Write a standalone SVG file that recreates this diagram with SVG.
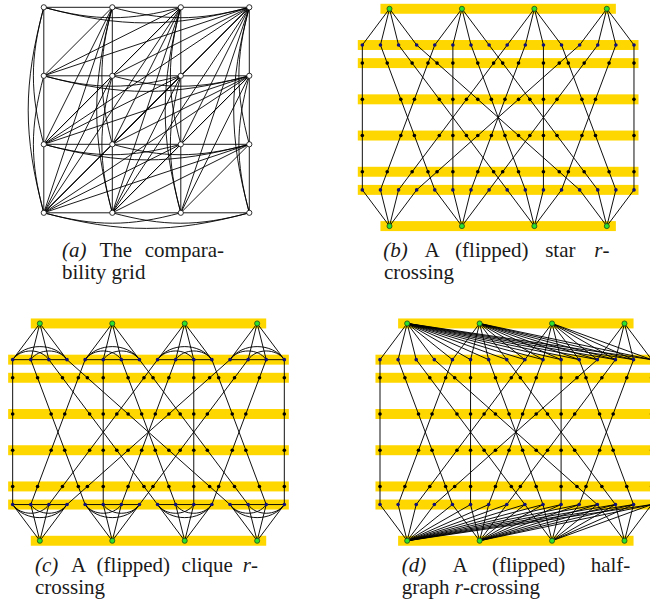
<svg xmlns="http://www.w3.org/2000/svg" width="650" height="605" viewBox="0 0 650 605">
<style>
.e{fill:none;stroke:#000;stroke-width:.052}
.ea{fill:none;stroke:#000;stroke-width:.9}
.band{fill:#ffd700}
.g{fill:#2de02d;stroke:#1b4d1b;stroke-width:.045}
.b{fill:#10107a}
.k{fill:#000}
.w{fill:#fff;stroke:#000;stroke-width:.8}
.cap{font-family:"Liberation Serif","Times New Roman",serif;font-size:21px;fill:#1a1a1a}
.it{font-style:italic}
</style>
<rect width="650" height="605" fill="#fff"/>

<!-- Panel (a): comparability grid -->
<g id="panel-a">
<g id="a-edges" class="ea">
<path d="M43.8 7.3H249.3M43.8 75.8H249.3M43.8 144.3H249.3M43.8 212.8H249.3M43.8 7.3V212.8M112.3 7.3V212.8M180.8 7.3V212.8M249.3 7.3V212.8"/>
<path d="M43.8 7.3C95.6 21.2 129 21.2 180.8 7.3M112.3 7.3C164.1 21.2 197.5 21.2 249.3 7.3M43.8 7.3C121.5 28.1 171.6 28.1 249.3 7.3
M43.8 75.8C95.6 89.7 129 89.7 180.8 75.8M112.3 75.8C164.1 89.7 197.5 89.7 249.3 75.8M43.8 75.8C121.5 96.6 171.6 96.6 249.3 75.8
M43.8 144.3C95.6 158.2 129 158.2 180.8 144.3M112.3 144.3C164.1 158.2 197.5 158.2 249.3 144.3M43.8 144.3C121.5 165.1 171.6 165.1 249.3 144.3
M43.8 212.8C95.6 226.7 129 226.7 180.8 212.8M112.3 212.8C164.1 226.7 197.5 226.7 249.3 212.8M43.8 212.8C121.5 233.6 171.6 233.6 249.3 212.8"/>
<path d="M43.8 7.3C29.9 59.1 29.9 92.5 43.8 144.3M43.8 75.8C29.9 127.6 29.9 161 43.8 212.8M43.8 7.3C23 85 23 135.1 43.8 212.8
M112.3 7.3C98.4 59.1 98.4 92.5 112.3 144.3M112.3 75.8C98.4 127.6 98.4 161 112.3 212.8M112.3 7.3C91.5 85 91.5 135.1 112.3 212.8
M180.8 7.3C166.9 59.1 166.9 92.5 180.8 144.3M180.8 75.8C166.9 127.6 166.9 161 180.8 212.8M180.8 7.3C160 85 160 135.1 180.8 212.8
M249.3 7.3C235.4 59.1 235.4 92.5 249.3 144.3M249.3 75.8C235.4 127.6 235.4 161 249.3 212.8M249.3 7.3C228.5 85 228.5 135.1 249.3 212.8"/>
<path d="M43.8 75.8L112.3 7.3M43.8 144.3L112.3 7.3M43.8 212.8L112.3 7.3M43.8 144.3L112.3 75.8M43.8 212.8L112.3 75.8M43.8 212.8L112.3 144.3
M43.8 75.8L180.8 7.3M43.8 144.3L180.8 7.3M43.8 212.8L180.8 7.3M43.8 144.3L180.8 75.8M43.8 212.8L180.8 75.8M43.8 212.8L180.8 144.3
M43.8 75.8L249.3 7.3M43.8 144.3L249.3 7.3M43.8 212.8L249.3 7.3M43.8 144.3L249.3 75.8M43.8 212.8L249.3 75.8M43.8 212.8L249.3 144.3
M112.3 75.8L180.8 7.3M112.3 144.3L180.8 7.3M112.3 212.8L180.8 7.3M112.3 144.3L180.8 75.8M112.3 212.8L180.8 75.8M112.3 212.8L180.8 144.3
M112.3 75.8L249.3 7.3M112.3 144.3L249.3 7.3M112.3 212.8L249.3 7.3M112.3 144.3L249.3 75.8M112.3 212.8L249.3 75.8M112.3 212.8L249.3 144.3
M180.8 75.8L249.3 7.3M180.8 144.3L249.3 7.3M180.8 212.8L249.3 7.3M180.8 144.3L249.3 75.8M180.8 212.8L249.3 75.8M180.8 212.8L249.3 144.3"/>
</g>
<g id="a-c0-r0"><circle class="w" cx="43.8" cy="7.3" r="2.6"/></g>
<g id="a-c1-r0"><circle class="w" cx="112.3" cy="7.3" r="2.6"/></g>
<g id="a-c2-r0"><circle class="w" cx="180.8" cy="7.3" r="2.6"/></g>
<g id="a-c3-r0"><circle class="w" cx="249.3" cy="7.3" r="2.6"/></g>
<g id="a-c0-r1"><circle class="w" cx="43.8" cy="75.8" r="2.6"/></g>
<g id="a-c1-r1"><circle class="w" cx="112.3" cy="75.8" r="2.6"/></g>
<g id="a-c2-r1"><circle class="w" cx="180.8" cy="75.8" r="2.6"/></g>
<g id="a-c3-r1"><circle class="w" cx="249.3" cy="75.8" r="2.6"/></g>
<g id="a-c0-r2"><circle class="w" cx="43.8" cy="144.3" r="2.6"/></g>
<g id="a-c1-r2"><circle class="w" cx="112.3" cy="144.3" r="2.6"/></g>
<g id="a-c2-r2"><circle class="w" cx="180.8" cy="144.3" r="2.6"/></g>
<g id="a-c3-r2"><circle class="w" cx="249.3" cy="144.3" r="2.6"/></g>
<g id="a-c0-r3"><circle class="w" cx="43.8" cy="212.8" r="2.6"/></g>
<g id="a-c1-r3"><circle class="w" cx="112.3" cy="212.8" r="2.6"/></g>
<g id="a-c2-r3"><circle class="w" cx="180.8" cy="212.8" r="2.6"/></g>
<g id="a-c3-r3"><circle class="w" cx="249.3" cy="212.8" r="2.6"/></g>
</g>

<!-- Panel (b): star r-crossing -->
<g id="panel-b" transform="translate(362.33,45) scale(18.11)">
<g id="b-bands">
<rect class="band" x="1" y="-2.275" width="13" height=".55"/>
<rect class="band" x="1" y="9.725" width="13" height=".55"/>
<rect class="band" x="-.25" y="-.275" width="15.5" height=".55"/>
<rect class="band" x="-.25" y=".725" width="15.5" height=".55"/>
<rect class="band" x="-.25" y="2.725" width="15.5" height=".55"/>
<rect class="band" x="-.25" y="4.725" width="15.5" height=".55"/>
<rect class="band" x="-.25" y="6.725" width="15.5" height=".55"/>
<rect class="band" x="-.25" y="7.725" width="15.5" height=".55"/>
</g>
<g id="b-edges" class="e">
<path d="M0 0V8M1 0L4 8M2 0L8 8M3 0L12 8M4 0L1 8M5 0V8M6 0L9 8M7 0L13 8M8 0L2 8M9 0L6 8M10 0V8M11 0L14 8M12 0L3 8M13 0L7 8M14 0L11 8M15 0V8"/>
<path d="M1.5 -2L0 0M1.5 -2L1 0M1.5 -2L2 0M1.5 -2L3 0M5.5 -2L4 0M5.5 -2L5 0M5.5 -2L6 0M5.5 -2L7 0M9.5 -2L8 0M9.5 -2L9 0M9.5 -2L10 0M9.5 -2L11 0M13.5 -2L12 0M13.5 -2L13 0M13.5 -2L14 0M13.5 -2L15 0"/>
<path d="M1.5 10L0 8M1.5 10L1 8M1.5 10L2 8M1.5 10L3 8M5.5 10L4 8M5.5 10L5 8M5.5 10L6 8M5.5 10L7 8M9.5 10L8 8M9.5 10L9 8M9.5 10L10 8M9.5 10L11 8M13.5 10L12 8M13.5 10L13 8M13.5 10L14 8M13.5 10L15 8"/>
</g>
<g id="b-top0"><circle class="g" cx="1.5" cy="-2" r=".14"/></g>
<g id="b-top1"><circle class="g" cx="5.5" cy="-2" r=".14"/></g>
<g id="b-top2"><circle class="g" cx="9.5" cy="-2" r=".14"/></g>
<g id="b-top3"><circle class="g" cx="13.5" cy="-2" r=".14"/></g>
<g id="b-bot0"><circle class="g" cx="1.5" cy="10" r=".14"/></g>
<g id="b-bot1"><circle class="g" cx="5.5" cy="10" r=".14"/></g>
<g id="b-bot2"><circle class="g" cx="9.5" cy="10" r=".14"/></g>
<g id="b-bot3"><circle class="g" cx="13.5" cy="10" r=".14"/></g>
<g id="b-r0-0"><circle class="b" cx="0" cy="0" r=".1"/></g>
<g id="b-r0-1"><circle class="b" cx="1" cy="0" r=".1"/></g>
<g id="b-r0-2"><circle class="b" cx="2" cy="0" r=".1"/></g>
<g id="b-r0-3"><circle class="b" cx="3" cy="0" r=".1"/></g>
<g id="b-r0-4"><circle class="b" cx="4" cy="0" r=".1"/></g>
<g id="b-r0-5"><circle class="b" cx="5" cy="0" r=".1"/></g>
<g id="b-r0-6"><circle class="b" cx="6" cy="0" r=".1"/></g>
<g id="b-r0-7"><circle class="b" cx="7" cy="0" r=".1"/></g>
<g id="b-r0-8"><circle class="b" cx="8" cy="0" r=".1"/></g>
<g id="b-r0-9"><circle class="b" cx="9" cy="0" r=".1"/></g>
<g id="b-r0-10"><circle class="b" cx="10" cy="0" r=".1"/></g>
<g id="b-r0-11"><circle class="b" cx="11" cy="0" r=".1"/></g>
<g id="b-r0-12"><circle class="b" cx="12" cy="0" r=".1"/></g>
<g id="b-r0-13"><circle class="b" cx="13" cy="0" r=".1"/></g>
<g id="b-r0-14"><circle class="b" cx="14" cy="0" r=".1"/></g>
<g id="b-r0-15"><circle class="b" cx="15" cy="0" r=".1"/></g>
<g id="b-r1-0"><circle class="k" cx="0" cy="1" r=".1"/></g>
<g id="b-r1-1"><circle class="k" cx="1.375" cy="1" r=".1"/></g>
<g id="b-r1-2"><circle class="k" cx="2.75" cy="1" r=".1"/></g>
<g id="b-r1-3"><circle class="k" cx="4.125" cy="1" r=".1"/></g>
<g id="b-r1-4"><circle class="k" cx="3.625" cy="1" r=".1"/></g>
<g id="b-r1-5"><circle class="k" cx="5" cy="1" r=".1"/></g>
<g id="b-r1-6"><circle class="k" cx="6.375" cy="1" r=".1"/></g>
<g id="b-r1-7"><circle class="k" cx="7.75" cy="1" r=".1"/></g>
<g id="b-r1-8"><circle class="k" cx="7.25" cy="1" r=".1"/></g>
<g id="b-r1-9"><circle class="k" cx="8.625" cy="1" r=".1"/></g>
<g id="b-r1-10"><circle class="k" cx="10" cy="1" r=".1"/></g>
<g id="b-r1-11"><circle class="k" cx="11.375" cy="1" r=".1"/></g>
<g id="b-r1-12"><circle class="k" cx="10.875" cy="1" r=".1"/></g>
<g id="b-r1-13"><circle class="k" cx="12.25" cy="1" r=".1"/></g>
<g id="b-r1-14"><circle class="k" cx="13.625" cy="1" r=".1"/></g>
<g id="b-r1-15"><circle class="k" cx="15" cy="1" r=".1"/></g>
<g id="b-r3-0"><circle class="k" cx="0" cy="3" r=".1"/></g>
<g id="b-r3-1"><circle class="k" cx="2.125" cy="3" r=".1"/></g>
<g id="b-r3-2"><circle class="k" cx="4.25" cy="3" r=".1"/></g>
<g id="b-r3-3"><circle class="k" cx="6.375" cy="3" r=".1"/></g>
<g id="b-r3-4"><circle class="k" cx="2.875" cy="3" r=".1"/></g>
<g id="b-r3-5"><circle class="k" cx="5" cy="3" r=".1"/></g>
<g id="b-r3-6"><circle class="k" cx="7.125" cy="3" r=".1"/></g>
<g id="b-r3-7"><circle class="k" cx="9.25" cy="3" r=".1"/></g>
<g id="b-r3-8"><circle class="k" cx="5.75" cy="3" r=".1"/></g>
<g id="b-r3-9"><circle class="k" cx="7.875" cy="3" r=".1"/></g>
<g id="b-r3-10"><circle class="k" cx="10" cy="3" r=".1"/></g>
<g id="b-r3-11"><circle class="k" cx="12.125" cy="3" r=".1"/></g>
<g id="b-r3-12"><circle class="k" cx="8.625" cy="3" r=".1"/></g>
<g id="b-r3-13"><circle class="k" cx="10.75" cy="3" r=".1"/></g>
<g id="b-r3-14"><circle class="k" cx="12.875" cy="3" r=".1"/></g>
<g id="b-r3-15"><circle class="k" cx="15" cy="3" r=".1"/></g>
<g id="b-r5-0"><circle class="k" cx="0" cy="5" r=".1"/></g>
<g id="b-r5-1"><circle class="k" cx="2.875" cy="5" r=".1"/></g>
<g id="b-r5-2"><circle class="k" cx="5.75" cy="5" r=".1"/></g>
<g id="b-r5-3"><circle class="k" cx="8.625" cy="5" r=".1"/></g>
<g id="b-r5-4"><circle class="k" cx="2.125" cy="5" r=".1"/></g>
<g id="b-r5-5"><circle class="k" cx="5" cy="5" r=".1"/></g>
<g id="b-r5-6"><circle class="k" cx="7.875" cy="5" r=".1"/></g>
<g id="b-r5-7"><circle class="k" cx="10.75" cy="5" r=".1"/></g>
<g id="b-r5-8"><circle class="k" cx="4.25" cy="5" r=".1"/></g>
<g id="b-r5-9"><circle class="k" cx="7.125" cy="5" r=".1"/></g>
<g id="b-r5-10"><circle class="k" cx="10" cy="5" r=".1"/></g>
<g id="b-r5-11"><circle class="k" cx="12.875" cy="5" r=".1"/></g>
<g id="b-r5-12"><circle class="k" cx="6.375" cy="5" r=".1"/></g>
<g id="b-r5-13"><circle class="k" cx="9.25" cy="5" r=".1"/></g>
<g id="b-r5-14"><circle class="k" cx="12.125" cy="5" r=".1"/></g>
<g id="b-r5-15"><circle class="k" cx="15" cy="5" r=".1"/></g>
<g id="b-r7-0"><circle class="k" cx="0" cy="7" r=".1"/></g>
<g id="b-r7-1"><circle class="k" cx="3.625" cy="7" r=".1"/></g>
<g id="b-r7-2"><circle class="k" cx="7.25" cy="7" r=".1"/></g>
<g id="b-r7-3"><circle class="k" cx="10.875" cy="7" r=".1"/></g>
<g id="b-r7-4"><circle class="k" cx="1.375" cy="7" r=".1"/></g>
<g id="b-r7-5"><circle class="k" cx="5" cy="7" r=".1"/></g>
<g id="b-r7-6"><circle class="k" cx="8.625" cy="7" r=".1"/></g>
<g id="b-r7-7"><circle class="k" cx="12.25" cy="7" r=".1"/></g>
<g id="b-r7-8"><circle class="k" cx="2.75" cy="7" r=".1"/></g>
<g id="b-r7-9"><circle class="k" cx="6.375" cy="7" r=".1"/></g>
<g id="b-r7-10"><circle class="k" cx="10" cy="7" r=".1"/></g>
<g id="b-r7-11"><circle class="k" cx="13.625" cy="7" r=".1"/></g>
<g id="b-r7-12"><circle class="k" cx="4.125" cy="7" r=".1"/></g>
<g id="b-r7-13"><circle class="k" cx="7.75" cy="7" r=".1"/></g>
<g id="b-r7-14"><circle class="k" cx="11.375" cy="7" r=".1"/></g>
<g id="b-r7-15"><circle class="k" cx="15" cy="7" r=".1"/></g>
<g id="b-r8-0"><circle class="b" cx="0" cy="8" r=".1"/></g>
<g id="b-r8-1"><circle class="b" cx="1" cy="8" r=".1"/></g>
<g id="b-r8-2"><circle class="b" cx="2" cy="8" r=".1"/></g>
<g id="b-r8-3"><circle class="b" cx="3" cy="8" r=".1"/></g>
<g id="b-r8-4"><circle class="b" cx="4" cy="8" r=".1"/></g>
<g id="b-r8-5"><circle class="b" cx="5" cy="8" r=".1"/></g>
<g id="b-r8-6"><circle class="b" cx="6" cy="8" r=".1"/></g>
<g id="b-r8-7"><circle class="b" cx="7" cy="8" r=".1"/></g>
<g id="b-r8-8"><circle class="b" cx="8" cy="8" r=".1"/></g>
<g id="b-r8-9"><circle class="b" cx="9" cy="8" r=".1"/></g>
<g id="b-r8-10"><circle class="b" cx="10" cy="8" r=".1"/></g>
<g id="b-r8-11"><circle class="b" cx="11" cy="8" r=".1"/></g>
<g id="b-r8-12"><circle class="b" cx="12" cy="8" r=".1"/></g>
<g id="b-r8-13"><circle class="b" cx="13" cy="8" r=".1"/></g>
<g id="b-r8-14"><circle class="b" cx="14" cy="8" r=".1"/></g>
<g id="b-r8-15"><circle class="b" cx="15" cy="8" r=".1"/></g>
</g>

<!-- Panel (c): clique r-crossing -->
<g id="panel-c" transform="translate(12.67,359.67) scale(18.11)">
<g id="c-bands">
<rect class="band" x="1" y="-2.275" width="13" height=".55"/>
<rect class="band" x="1" y="9.725" width="13" height=".55"/>
<rect class="band" x="-.25" y="-.275" width="15.5" height=".55"/>
<rect class="band" x="-.25" y=".725" width="15.5" height=".55"/>
<rect class="band" x="-.25" y="2.725" width="15.5" height=".55"/>
<rect class="band" x="-.25" y="4.725" width="15.5" height=".55"/>
<rect class="band" x="-.25" y="6.725" width="15.5" height=".55"/>
<rect class="band" x="-.25" y="7.725" width="15.5" height=".55"/>
</g>
<g id="c-edges" class="e">
<path d="M0 0V8M1 0L4 8M2 0L8 8M3 0L12 8M4 0L1 8M5 0V8M6 0L9 8M7 0L13 8M8 0L2 8M9 0L6 8M10 0V8M11 0L14 8M12 0L3 8M13 0L7 8M14 0L11 8M15 0V8"/>
<path d="M1.5 -2L0 0M1.5 -2L1 0M1.5 -2L2 0M1.5 -2L3 0M5.5 -2L4 0M5.5 -2L5 0M5.5 -2L6 0M5.5 -2L7 0M9.5 -2L8 0M9.5 -2L9 0M9.5 -2L10 0M9.5 -2L11 0M13.5 -2L12 0M13.5 -2L13 0M13.5 -2L14 0M13.5 -2L15 0"/>
<path d="M1.5 10L0 8M1.5 10L1 8M1.5 10L2 8M1.5 10L3 8M5.5 10L4 8M5.5 10L5 8M5.5 10L6 8M5.5 10L7 8M9.5 10L8 8M9.5 10L9 8M9.5 10L10 8M9.5 10L11 8M13.5 10L12 8M13.5 10L13 8M13.5 10L14 8M13.5 10L15 8"/>
<path d="M0 0H3M0 0C.449 -.641 1.551 -.641 2 0M1 0C1.449 -.641 2.551 -.641 3 0M0 0C.674 -.962 2.326 -.962 3 0
M4 0H7M4 0C4.449 -.641 5.551 -.641 6 0M5 0C5.449 -.641 6.551 -.641 7 0M4 0C4.674 -.962 6.326 -.962 7 0
M8 0H11M8 0C8.449 -.641 9.551 -.641 10 0M9 0C9.449 -.641 10.551 -.641 11 0M8 0C8.674 -.962 10.326 -.962 11 0
M12 0H15M12 0C12.449 -.641 13.551 -.641 14 0M13 0C13.449 -.641 14.551 -.641 15 0M12 0C12.674 -.962 14.326 -.962 15 0"/>
<path d="M0 8H3M0 8C.449 8.641 1.551 8.641 2 8M1 8C1.449 8.641 2.551 8.641 3 8M0 8C.674 8.962 2.326 8.962 3 8
M4 8H7M4 8C4.449 8.641 5.551 8.641 6 8M5 8C5.449 8.641 6.551 8.641 7 8M4 8C4.674 8.962 6.326 8.962 7 8
M8 8H11M8 8C8.449 8.641 9.551 8.641 10 8M9 8C9.449 8.641 10.551 8.641 11 8M8 8C8.674 8.962 10.326 8.962 11 8
M12 8H15M12 8C12.449 8.641 13.551 8.641 14 8M13 8C13.449 8.641 14.551 8.641 15 8M12 8C12.674 8.962 14.326 8.962 15 8"/>
</g>
<g id="c-top0"><circle class="g" cx="1.5" cy="-2" r=".14"/></g>
<g id="c-top1"><circle class="g" cx="5.5" cy="-2" r=".14"/></g>
<g id="c-top2"><circle class="g" cx="9.5" cy="-2" r=".14"/></g>
<g id="c-top3"><circle class="g" cx="13.5" cy="-2" r=".14"/></g>
<g id="c-bot0"><circle class="g" cx="1.5" cy="10" r=".14"/></g>
<g id="c-bot1"><circle class="g" cx="5.5" cy="10" r=".14"/></g>
<g id="c-bot2"><circle class="g" cx="9.5" cy="10" r=".14"/></g>
<g id="c-bot3"><circle class="g" cx="13.5" cy="10" r=".14"/></g>
<g id="c-r0-0"><circle class="b" cx="0" cy="0" r=".1"/></g>
<g id="c-r0-1"><circle class="b" cx="1" cy="0" r=".1"/></g>
<g id="c-r0-2"><circle class="b" cx="2" cy="0" r=".1"/></g>
<g id="c-r0-3"><circle class="b" cx="3" cy="0" r=".1"/></g>
<g id="c-r0-4"><circle class="b" cx="4" cy="0" r=".1"/></g>
<g id="c-r0-5"><circle class="b" cx="5" cy="0" r=".1"/></g>
<g id="c-r0-6"><circle class="b" cx="6" cy="0" r=".1"/></g>
<g id="c-r0-7"><circle class="b" cx="7" cy="0" r=".1"/></g>
<g id="c-r0-8"><circle class="b" cx="8" cy="0" r=".1"/></g>
<g id="c-r0-9"><circle class="b" cx="9" cy="0" r=".1"/></g>
<g id="c-r0-10"><circle class="b" cx="10" cy="0" r=".1"/></g>
<g id="c-r0-11"><circle class="b" cx="11" cy="0" r=".1"/></g>
<g id="c-r0-12"><circle class="b" cx="12" cy="0" r=".1"/></g>
<g id="c-r0-13"><circle class="b" cx="13" cy="0" r=".1"/></g>
<g id="c-r0-14"><circle class="b" cx="14" cy="0" r=".1"/></g>
<g id="c-r0-15"><circle class="b" cx="15" cy="0" r=".1"/></g>
<g id="c-r1-0"><circle class="k" cx="0" cy="1" r=".1"/></g>
<g id="c-r1-1"><circle class="k" cx="1.375" cy="1" r=".1"/></g>
<g id="c-r1-2"><circle class="k" cx="2.75" cy="1" r=".1"/></g>
<g id="c-r1-3"><circle class="k" cx="4.125" cy="1" r=".1"/></g>
<g id="c-r1-4"><circle class="k" cx="3.625" cy="1" r=".1"/></g>
<g id="c-r1-5"><circle class="k" cx="5" cy="1" r=".1"/></g>
<g id="c-r1-6"><circle class="k" cx="6.375" cy="1" r=".1"/></g>
<g id="c-r1-7"><circle class="k" cx="7.75" cy="1" r=".1"/></g>
<g id="c-r1-8"><circle class="k" cx="7.25" cy="1" r=".1"/></g>
<g id="c-r1-9"><circle class="k" cx="8.625" cy="1" r=".1"/></g>
<g id="c-r1-10"><circle class="k" cx="10" cy="1" r=".1"/></g>
<g id="c-r1-11"><circle class="k" cx="11.375" cy="1" r=".1"/></g>
<g id="c-r1-12"><circle class="k" cx="10.875" cy="1" r=".1"/></g>
<g id="c-r1-13"><circle class="k" cx="12.25" cy="1" r=".1"/></g>
<g id="c-r1-14"><circle class="k" cx="13.625" cy="1" r=".1"/></g>
<g id="c-r1-15"><circle class="k" cx="15" cy="1" r=".1"/></g>
<g id="c-r3-0"><circle class="k" cx="0" cy="3" r=".1"/></g>
<g id="c-r3-1"><circle class="k" cx="2.125" cy="3" r=".1"/></g>
<g id="c-r3-2"><circle class="k" cx="4.25" cy="3" r=".1"/></g>
<g id="c-r3-3"><circle class="k" cx="6.375" cy="3" r=".1"/></g>
<g id="c-r3-4"><circle class="k" cx="2.875" cy="3" r=".1"/></g>
<g id="c-r3-5"><circle class="k" cx="5" cy="3" r=".1"/></g>
<g id="c-r3-6"><circle class="k" cx="7.125" cy="3" r=".1"/></g>
<g id="c-r3-7"><circle class="k" cx="9.25" cy="3" r=".1"/></g>
<g id="c-r3-8"><circle class="k" cx="5.75" cy="3" r=".1"/></g>
<g id="c-r3-9"><circle class="k" cx="7.875" cy="3" r=".1"/></g>
<g id="c-r3-10"><circle class="k" cx="10" cy="3" r=".1"/></g>
<g id="c-r3-11"><circle class="k" cx="12.125" cy="3" r=".1"/></g>
<g id="c-r3-12"><circle class="k" cx="8.625" cy="3" r=".1"/></g>
<g id="c-r3-13"><circle class="k" cx="10.75" cy="3" r=".1"/></g>
<g id="c-r3-14"><circle class="k" cx="12.875" cy="3" r=".1"/></g>
<g id="c-r3-15"><circle class="k" cx="15" cy="3" r=".1"/></g>
<g id="c-r5-0"><circle class="k" cx="0" cy="5" r=".1"/></g>
<g id="c-r5-1"><circle class="k" cx="2.875" cy="5" r=".1"/></g>
<g id="c-r5-2"><circle class="k" cx="5.75" cy="5" r=".1"/></g>
<g id="c-r5-3"><circle class="k" cx="8.625" cy="5" r=".1"/></g>
<g id="c-r5-4"><circle class="k" cx="2.125" cy="5" r=".1"/></g>
<g id="c-r5-5"><circle class="k" cx="5" cy="5" r=".1"/></g>
<g id="c-r5-6"><circle class="k" cx="7.875" cy="5" r=".1"/></g>
<g id="c-r5-7"><circle class="k" cx="10.75" cy="5" r=".1"/></g>
<g id="c-r5-8"><circle class="k" cx="4.25" cy="5" r=".1"/></g>
<g id="c-r5-9"><circle class="k" cx="7.125" cy="5" r=".1"/></g>
<g id="c-r5-10"><circle class="k" cx="10" cy="5" r=".1"/></g>
<g id="c-r5-11"><circle class="k" cx="12.875" cy="5" r=".1"/></g>
<g id="c-r5-12"><circle class="k" cx="6.375" cy="5" r=".1"/></g>
<g id="c-r5-13"><circle class="k" cx="9.25" cy="5" r=".1"/></g>
<g id="c-r5-14"><circle class="k" cx="12.125" cy="5" r=".1"/></g>
<g id="c-r5-15"><circle class="k" cx="15" cy="5" r=".1"/></g>
<g id="c-r7-0"><circle class="k" cx="0" cy="7" r=".1"/></g>
<g id="c-r7-1"><circle class="k" cx="3.625" cy="7" r=".1"/></g>
<g id="c-r7-2"><circle class="k" cx="7.25" cy="7" r=".1"/></g>
<g id="c-r7-3"><circle class="k" cx="10.875" cy="7" r=".1"/></g>
<g id="c-r7-4"><circle class="k" cx="1.375" cy="7" r=".1"/></g>
<g id="c-r7-5"><circle class="k" cx="5" cy="7" r=".1"/></g>
<g id="c-r7-6"><circle class="k" cx="8.625" cy="7" r=".1"/></g>
<g id="c-r7-7"><circle class="k" cx="12.25" cy="7" r=".1"/></g>
<g id="c-r7-8"><circle class="k" cx="2.75" cy="7" r=".1"/></g>
<g id="c-r7-9"><circle class="k" cx="6.375" cy="7" r=".1"/></g>
<g id="c-r7-10"><circle class="k" cx="10" cy="7" r=".1"/></g>
<g id="c-r7-11"><circle class="k" cx="13.625" cy="7" r=".1"/></g>
<g id="c-r7-12"><circle class="k" cx="4.125" cy="7" r=".1"/></g>
<g id="c-r7-13"><circle class="k" cx="7.75" cy="7" r=".1"/></g>
<g id="c-r7-14"><circle class="k" cx="11.375" cy="7" r=".1"/></g>
<g id="c-r7-15"><circle class="k" cx="15" cy="7" r=".1"/></g>
<g id="c-r8-0"><circle class="b" cx="0" cy="8" r=".1"/></g>
<g id="c-r8-1"><circle class="b" cx="1" cy="8" r=".1"/></g>
<g id="c-r8-2"><circle class="b" cx="2" cy="8" r=".1"/></g>
<g id="c-r8-3"><circle class="b" cx="3" cy="8" r=".1"/></g>
<g id="c-r8-4"><circle class="b" cx="4" cy="8" r=".1"/></g>
<g id="c-r8-5"><circle class="b" cx="5" cy="8" r=".1"/></g>
<g id="c-r8-6"><circle class="b" cx="6" cy="8" r=".1"/></g>
<g id="c-r8-7"><circle class="b" cx="7" cy="8" r=".1"/></g>
<g id="c-r8-8"><circle class="b" cx="8" cy="8" r=".1"/></g>
<g id="c-r8-9"><circle class="b" cx="9" cy="8" r=".1"/></g>
<g id="c-r8-10"><circle class="b" cx="10" cy="8" r=".1"/></g>
<g id="c-r8-11"><circle class="b" cx="11" cy="8" r=".1"/></g>
<g id="c-r8-12"><circle class="b" cx="12" cy="8" r=".1"/></g>
<g id="c-r8-13"><circle class="b" cx="13" cy="8" r=".1"/></g>
<g id="c-r8-14"><circle class="b" cx="14" cy="8" r=".1"/></g>
<g id="c-r8-15"><circle class="b" cx="15" cy="8" r=".1"/></g>
</g>

<!-- Panel (d): half-graph r-crossing -->
<g id="panel-d" transform="translate(380,359.67) scale(18.11)">
<g id="d-bands">
<rect class="band" x="1" y="-2.275" width="13" height=".55"/>
<rect class="band" x="1" y="9.725" width="13" height=".55"/>
<rect class="band" x="-.25" y="-.275" width="15.5" height=".55"/>
<rect class="band" x="-.25" y=".725" width="15.5" height=".55"/>
<rect class="band" x="-.25" y="2.725" width="15.5" height=".55"/>
<rect class="band" x="-.25" y="4.725" width="15.5" height=".55"/>
<rect class="band" x="-.25" y="6.725" width="15.5" height=".55"/>
<rect class="band" x="-.25" y="7.725" width="15.5" height=".55"/>
</g>
<g id="d-edges" class="e">
<path d="M0 0V8M1 0L4 8M2 0L8 8M3 0L12 8M4 0L1 8M5 0V8M6 0L9 8M7 0L13 8M8 0L2 8M9 0L6 8M10 0V8M11 0L14 8M12 0L3 8M13 0L7 8M14 0L11 8M15 0V8"/>
<path d="M1.5 -2L0 0M1.5 -2L1 0M1.5 -2L2 0M1.5 -2L3 0M1.5 -2L4 0M1.5 -2L5 0M1.5 -2L6 0M1.5 -2L7 0M1.5 -2L8 0M1.5 -2L9 0M1.5 -2L10 0M1.5 -2L11 0M1.5 -2L12 0M1.5 -2L13 0M1.5 -2L14 0M1.5 -2L15 0
M5.5 -2L4 0M5.5 -2L5 0M5.5 -2L6 0M5.5 -2L7 0M5.5 -2L8 0M5.5 -2L9 0M5.5 -2L10 0M5.5 -2L11 0M5.5 -2L12 0M5.5 -2L13 0M5.5 -2L14 0M5.5 -2L15 0
M9.5 -2L8 0M9.5 -2L9 0M9.5 -2L10 0M9.5 -2L11 0M9.5 -2L12 0M9.5 -2L13 0M9.5 -2L14 0M9.5 -2L15 0
M13.5 -2L12 0M13.5 -2L13 0M13.5 -2L14 0M13.5 -2L15 0"/>
<path d="M1.5 10L0 8M1.5 10L1 8M1.5 10L2 8M1.5 10L3 8M1.5 10L4 8M1.5 10L5 8M1.5 10L6 8M1.5 10L7 8M1.5 10L8 8M1.5 10L9 8M1.5 10L10 8M1.5 10L11 8M1.5 10L12 8M1.5 10L13 8M1.5 10L14 8M1.5 10L15 8
M5.5 10L4 8M5.5 10L5 8M5.5 10L6 8M5.5 10L7 8M5.5 10L8 8M5.5 10L9 8M5.5 10L10 8M5.5 10L11 8M5.5 10L12 8M5.5 10L13 8M5.5 10L14 8M5.5 10L15 8
M9.5 10L8 8M9.5 10L9 8M9.5 10L10 8M9.5 10L11 8M9.5 10L12 8M9.5 10L13 8M9.5 10L14 8M9.5 10L15 8
M13.5 10L12 8M13.5 10L13 8M13.5 10L14 8M13.5 10L15 8"/>
</g>
<g id="d-top0"><circle class="g" cx="1.5" cy="-2" r=".14"/></g>
<g id="d-top1"><circle class="g" cx="5.5" cy="-2" r=".14"/></g>
<g id="d-top2"><circle class="g" cx="9.5" cy="-2" r=".14"/></g>
<g id="d-top3"><circle class="g" cx="13.5" cy="-2" r=".14"/></g>
<g id="d-bot0"><circle class="g" cx="1.5" cy="10" r=".14"/></g>
<g id="d-bot1"><circle class="g" cx="5.5" cy="10" r=".14"/></g>
<g id="d-bot2"><circle class="g" cx="9.5" cy="10" r=".14"/></g>
<g id="d-bot3"><circle class="g" cx="13.5" cy="10" r=".14"/></g>
<g id="d-r0-0"><circle class="b" cx="0" cy="0" r=".1"/></g>
<g id="d-r0-1"><circle class="b" cx="1" cy="0" r=".1"/></g>
<g id="d-r0-2"><circle class="b" cx="2" cy="0" r=".1"/></g>
<g id="d-r0-3"><circle class="b" cx="3" cy="0" r=".1"/></g>
<g id="d-r0-4"><circle class="b" cx="4" cy="0" r=".1"/></g>
<g id="d-r0-5"><circle class="b" cx="5" cy="0" r=".1"/></g>
<g id="d-r0-6"><circle class="b" cx="6" cy="0" r=".1"/></g>
<g id="d-r0-7"><circle class="b" cx="7" cy="0" r=".1"/></g>
<g id="d-r0-8"><circle class="b" cx="8" cy="0" r=".1"/></g>
<g id="d-r0-9"><circle class="b" cx="9" cy="0" r=".1"/></g>
<g id="d-r0-10"><circle class="b" cx="10" cy="0" r=".1"/></g>
<g id="d-r0-11"><circle class="b" cx="11" cy="0" r=".1"/></g>
<g id="d-r0-12"><circle class="b" cx="12" cy="0" r=".1"/></g>
<g id="d-r0-13"><circle class="b" cx="13" cy="0" r=".1"/></g>
<g id="d-r0-14"><circle class="b" cx="14" cy="0" r=".1"/></g>
<g id="d-r0-15"><circle class="b" cx="15" cy="0" r=".1"/></g>
<g id="d-r1-0"><circle class="k" cx="0" cy="1" r=".1"/></g>
<g id="d-r1-1"><circle class="k" cx="1.375" cy="1" r=".1"/></g>
<g id="d-r1-2"><circle class="k" cx="2.75" cy="1" r=".1"/></g>
<g id="d-r1-3"><circle class="k" cx="4.125" cy="1" r=".1"/></g>
<g id="d-r1-4"><circle class="k" cx="3.625" cy="1" r=".1"/></g>
<g id="d-r1-5"><circle class="k" cx="5" cy="1" r=".1"/></g>
<g id="d-r1-6"><circle class="k" cx="6.375" cy="1" r=".1"/></g>
<g id="d-r1-7"><circle class="k" cx="7.75" cy="1" r=".1"/></g>
<g id="d-r1-8"><circle class="k" cx="7.25" cy="1" r=".1"/></g>
<g id="d-r1-9"><circle class="k" cx="8.625" cy="1" r=".1"/></g>
<g id="d-r1-10"><circle class="k" cx="10" cy="1" r=".1"/></g>
<g id="d-r1-11"><circle class="k" cx="11.375" cy="1" r=".1"/></g>
<g id="d-r1-12"><circle class="k" cx="10.875" cy="1" r=".1"/></g>
<g id="d-r1-13"><circle class="k" cx="12.25" cy="1" r=".1"/></g>
<g id="d-r1-14"><circle class="k" cx="13.625" cy="1" r=".1"/></g>
<g id="d-r1-15"><circle class="k" cx="15" cy="1" r=".1"/></g>
<g id="d-r3-0"><circle class="k" cx="0" cy="3" r=".1"/></g>
<g id="d-r3-1"><circle class="k" cx="2.125" cy="3" r=".1"/></g>
<g id="d-r3-2"><circle class="k" cx="4.25" cy="3" r=".1"/></g>
<g id="d-r3-3"><circle class="k" cx="6.375" cy="3" r=".1"/></g>
<g id="d-r3-4"><circle class="k" cx="2.875" cy="3" r=".1"/></g>
<g id="d-r3-5"><circle class="k" cx="5" cy="3" r=".1"/></g>
<g id="d-r3-6"><circle class="k" cx="7.125" cy="3" r=".1"/></g>
<g id="d-r3-7"><circle class="k" cx="9.25" cy="3" r=".1"/></g>
<g id="d-r3-8"><circle class="k" cx="5.75" cy="3" r=".1"/></g>
<g id="d-r3-9"><circle class="k" cx="7.875" cy="3" r=".1"/></g>
<g id="d-r3-10"><circle class="k" cx="10" cy="3" r=".1"/></g>
<g id="d-r3-11"><circle class="k" cx="12.125" cy="3" r=".1"/></g>
<g id="d-r3-12"><circle class="k" cx="8.625" cy="3" r=".1"/></g>
<g id="d-r3-13"><circle class="k" cx="10.75" cy="3" r=".1"/></g>
<g id="d-r3-14"><circle class="k" cx="12.875" cy="3" r=".1"/></g>
<g id="d-r3-15"><circle class="k" cx="15" cy="3" r=".1"/></g>
<g id="d-r5-0"><circle class="k" cx="0" cy="5" r=".1"/></g>
<g id="d-r5-1"><circle class="k" cx="2.875" cy="5" r=".1"/></g>
<g id="d-r5-2"><circle class="k" cx="5.75" cy="5" r=".1"/></g>
<g id="d-r5-3"><circle class="k" cx="8.625" cy="5" r=".1"/></g>
<g id="d-r5-4"><circle class="k" cx="2.125" cy="5" r=".1"/></g>
<g id="d-r5-5"><circle class="k" cx="5" cy="5" r=".1"/></g>
<g id="d-r5-6"><circle class="k" cx="7.875" cy="5" r=".1"/></g>
<g id="d-r5-7"><circle class="k" cx="10.75" cy="5" r=".1"/></g>
<g id="d-r5-8"><circle class="k" cx="4.25" cy="5" r=".1"/></g>
<g id="d-r5-9"><circle class="k" cx="7.125" cy="5" r=".1"/></g>
<g id="d-r5-10"><circle class="k" cx="10" cy="5" r=".1"/></g>
<g id="d-r5-11"><circle class="k" cx="12.875" cy="5" r=".1"/></g>
<g id="d-r5-12"><circle class="k" cx="6.375" cy="5" r=".1"/></g>
<g id="d-r5-13"><circle class="k" cx="9.25" cy="5" r=".1"/></g>
<g id="d-r5-14"><circle class="k" cx="12.125" cy="5" r=".1"/></g>
<g id="d-r5-15"><circle class="k" cx="15" cy="5" r=".1"/></g>
<g id="d-r7-0"><circle class="k" cx="0" cy="7" r=".1"/></g>
<g id="d-r7-1"><circle class="k" cx="3.625" cy="7" r=".1"/></g>
<g id="d-r7-2"><circle class="k" cx="7.25" cy="7" r=".1"/></g>
<g id="d-r7-3"><circle class="k" cx="10.875" cy="7" r=".1"/></g>
<g id="d-r7-4"><circle class="k" cx="1.375" cy="7" r=".1"/></g>
<g id="d-r7-5"><circle class="k" cx="5" cy="7" r=".1"/></g>
<g id="d-r7-6"><circle class="k" cx="8.625" cy="7" r=".1"/></g>
<g id="d-r7-7"><circle class="k" cx="12.25" cy="7" r=".1"/></g>
<g id="d-r7-8"><circle class="k" cx="2.75" cy="7" r=".1"/></g>
<g id="d-r7-9"><circle class="k" cx="6.375" cy="7" r=".1"/></g>
<g id="d-r7-10"><circle class="k" cx="10" cy="7" r=".1"/></g>
<g id="d-r7-11"><circle class="k" cx="13.625" cy="7" r=".1"/></g>
<g id="d-r7-12"><circle class="k" cx="4.125" cy="7" r=".1"/></g>
<g id="d-r7-13"><circle class="k" cx="7.75" cy="7" r=".1"/></g>
<g id="d-r7-14"><circle class="k" cx="11.375" cy="7" r=".1"/></g>
<g id="d-r7-15"><circle class="k" cx="15" cy="7" r=".1"/></g>
<g id="d-r8-0"><circle class="b" cx="0" cy="8" r=".1"/></g>
<g id="d-r8-1"><circle class="b" cx="1" cy="8" r=".1"/></g>
<g id="d-r8-2"><circle class="b" cx="2" cy="8" r=".1"/></g>
<g id="d-r8-3"><circle class="b" cx="3" cy="8" r=".1"/></g>
<g id="d-r8-4"><circle class="b" cx="4" cy="8" r=".1"/></g>
<g id="d-r8-5"><circle class="b" cx="5" cy="8" r=".1"/></g>
<g id="d-r8-6"><circle class="b" cx="6" cy="8" r=".1"/></g>
<g id="d-r8-7"><circle class="b" cx="7" cy="8" r=".1"/></g>
<g id="d-r8-8"><circle class="b" cx="8" cy="8" r=".1"/></g>
<g id="d-r8-9"><circle class="b" cx="9" cy="8" r=".1"/></g>
<g id="d-r8-10"><circle class="b" cx="10" cy="8" r=".1"/></g>
<g id="d-r8-11"><circle class="b" cx="11" cy="8" r=".1"/></g>
<g id="d-r8-12"><circle class="b" cx="12" cy="8" r=".1"/></g>
<g id="d-r8-13"><circle class="b" cx="13" cy="8" r=".1"/></g>
<g id="d-r8-14"><circle class="b" cx="14" cy="8" r=".1"/></g>
<g id="d-r8-15"><circle class="b" cx="15" cy="8" r=".1"/></g>
</g>

<!-- Captions -->
<g id="captions" class="cap">
<text y="257"><tspan x="62" class="it">(a)</tspan><tspan x="99.5">The</tspan><tspan x="144.8">compara-</tspan></text>
<text x="62" y="279">bility grid</text>
<text y="257"><tspan x="383.3" class="it">(b)</tspan><tspan x="424.5">A</tspan><tspan x="455.1">(flipped)</tspan><tspan x="545.2">star</tspan><tspan x="594.3" class="it">r</tspan><tspan>-</tspan></text>
<text x="384" y="279">crossing</text>
<text y="572"><tspan x="35" class="it">(c)</tspan><tspan x="71.1">A</tspan><tspan x="96.6">(flipped)</tspan><tspan x="181.6">clique</tspan><tspan x="242.7" class="it">r</tspan><tspan>-</tspan></text>
<text x="35" y="594">crossing</text>
<text y="572"><tspan x="401.7" class="it">(d)</tspan><tspan x="452.6">A</tspan><tspan x="491.9">(flipped)</tspan><tspan x="590.7">half-</tspan></text>
<text x="401.7" y="594">graph <tspan class="it">r</tspan>-crossing</text>
</g>
</svg>
